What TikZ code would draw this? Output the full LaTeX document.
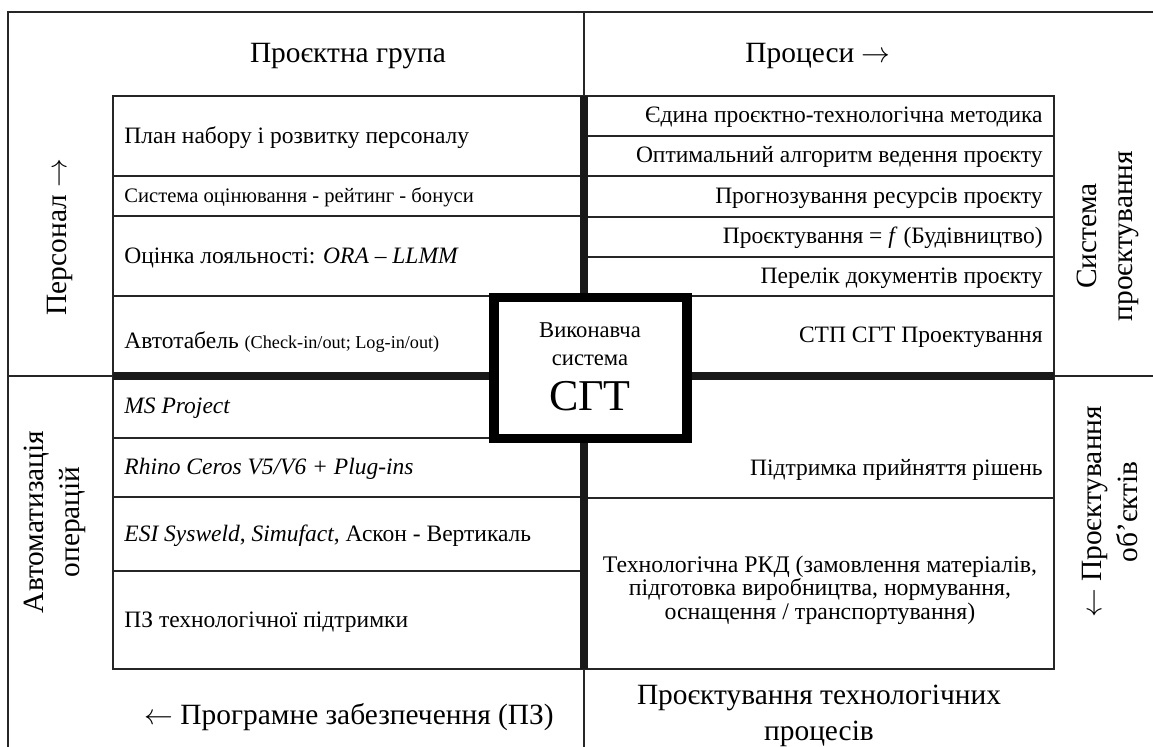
\documentclass[tikz,border=0pt]{standalone}
\usepackage{fontspec}
\setmainfont{Liberation Serif}
\begin{document}
\begin{tikzpicture}[x=0.5pt,y=-0.5pt,
  thinl/.style={line width=0.75pt, draw=black!85},
  thickl/.style={line width=3.6pt, draw=black!90},
  big/.style={font=\fontsize{14.7}{18}\selectfont, inner sep=0pt, align=center},
  rowt/.style={font=\fontsize{11.75}{12}\selectfont, inner sep=0pt},
  lrow/.style={rowt, anchor=west},
  rrow/.style={rowt, anchor=east},
  smallt/.style={font=\fontsize{10.3}{11}\selectfont, inner sep=0pt, anchor=west},
  side/.style={big, rotate=90, align=center}]
\useasboundingbox (0,0) rectangle (1153,747);
% frame and axes
\draw[thinl] (8,747) -- (8,12) -- (1153,12);
\draw[thinl] (584,12) -- (584,747);
\draw[thinl] (8,376) -- (1153,376);
% left block
\draw[thinl, fill=white] (113,96) rectangle (584,669);
\foreach \y in {176,216,497,571} \draw[thinl] (113,\y) -- (584,\y);
\draw[thinl] (113,296) -- (494,296);
\draw[thinl] (113,438) -- (494,438);
% right block
\draw[thinl, fill=white] (584,96) rectangle (1054,669);
\foreach \y in {136,176,217,257,498} \draw[thinl] (584,\y) -- (1054,\y);
\draw[thinl] (687,296) -- (1054,296);
% thick axes
\draw[thickl] (584,96) -- (584,669);
\draw[thickl] (113,376) -- (1054,376);
% central box
\draw[line width=4.6pt, fill=white] (494,297.5) rectangle (687,438.5);
\node[font=\fontsize{11.3}{14}\selectfont, align=center, inner sep=0pt] (vs) at (590,344) {Виконавча\\система};
\node[font=\fontsize{22}{24}\selectfont, inner sep=0pt] (sgt) at (590,396) {СГТ};
% headers
\node[big] (pg) at (348,56) {Проєктна група};
\node[big] (pr) at (818,56) {Процеси $\rightarrow$};
\node[big] (pz) at (349,717) {$\leftarrow$ Програмне забезпечення (ПЗ)};
\node[big] (ptp) at (819,716) {Проєктування технологічних\\процесів};
\node[side] (pers) at (60,237) {Персонал $\rightarrow$};
\node[side] (auto) at (55,522) {Автоматизація\\операцій};
\node[side] (sysp) at (1108,236) {Система\\проєктування};
\node[side] (pob) at (1110,512) {$\leftarrow$ Проєктування\\об'єктів};
% left rows
\node[lrow] (l1) at (124,138) {План набору і розвитку персоналу};
\node[smallt] (l2) at (124,197) {Система оцінювання - рейтинг - бонуси};
\node[lrow] (l3) at (124,258) {Оцінка лояльності: \textit{ORA – LLMM}};
\node[lrow] (l4) at (124,342) {Автотабель \fontsize{9.1}{10}\selectfont(Check-in/out; Log-in/out)};
\node[lrow] (l5) at (124,408) {\textit{MS Project}};
\node[lrow] (l6) at (124,469) {\textit{Rhino Ceros V5/V6 + Plug-ins}};
\node[lrow] (l7) at (124,536) {\textit{ESI Sysweld}, \textit{Simufact}, Аскон - Вертикаль};
\node[lrow] (l8) at (124,622) {ПЗ технологічної підтримки};
% right rows
\node[rrow] (r1) at (1043,117) {Єдина проєктно-технологічна методика};
\node[rrow] (r2) at (1043,157) {Оптимальний алгоритм ведення проєкту};
\node[rrow] (r3) at (1043,198) {Прогнозування ресурсів проєкту};
\node[rrow] (r4) at (1043,238) {Проєктування = \textit{f} (Будівництво)};
\node[rrow] (r5) at (1043,278) {Перелік документів проєкту};
\node[rrow] (r6) at (1043,337) {СТП СГТ Проектування};
\node[rrow] (r7) at (1043,470) {Підтримка прийняття рішень};
\node[rowt, align=center, font=\fontsize{11.9}{11.7}\selectfont] (r8) at (820,590) {Технологічна РКД (замовлення матеріалів,\\підготовка виробництва, нормування,\\оснащення / транспортування)};
\end{tikzpicture}
\end{document}
